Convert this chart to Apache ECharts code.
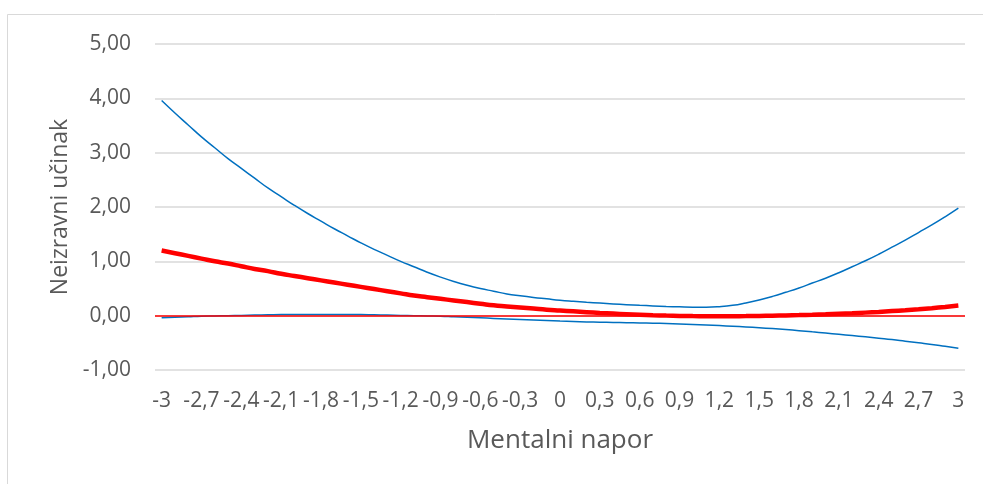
<!DOCTYPE html>
<html>
<head>
<meta charset="utf-8">
<script src="https://cdn.jsdelivr.net/npm/echarts@6/dist/echarts.min.js"></script>
<style>
html,body{margin:0;padding:0;background:#fff;}
#c{width:983px;height:484px;}
</style>
</head>
<body>
<div id="c"></div>
<script>
var categories = ["-3","-2,9","-2,8","-2,7","-2,6","-2,5","-2,4","-2,3","-2,2","-2,1","-2","-1,9","-1,8","-1,7","-1,6","-1,5","-1,4","-1,3","-1,2","-1,1","-1","-0,9","-0,8","-0,7","-0,6","-0,5","-0,4","-0,3","-0,2","-0,1","0","0,1","0,2","0,3","0,4","0,5","0,6","0,7","0,8","0,9","1","1,1","1,2","1,3","1,4","1,5","1,6","1,7","1,8","1,9","2","2,1","2,2","2,3","2,4","2,5","2,6","2,7","2,8","2,9","3"];
var upperBound = [3.96,3.73,3.51,3.29,3.09,2.89,2.71,2.53,2.35,2.19,2.03,1.88,1.74,1.60,1.47,1.34,1.22,1.11,1.00,0.90,0.80,0.71,0.63,0.56,0.50,0.45,0.40,0.365,0.335,0.31,0.285,0.265,0.247,0.231,0.216,0.203,0.191,0.180,0.170,0.162,0.156,0.155,0.165,0.19,0.235,0.29,0.355,0.43,0.51,0.60,0.69,0.79,0.90,1.01,1.13,1.26,1.39,1.53,1.67,1.82,1.98];
var lowerBound = [-0.04,-0.03,-0.02,-0.01,-0.005,0.0,0.005,0.01,0.015,0.02,0.02,0.02,0.02,0.02,0.02,0.02,0.015,0.01,0.005,0.0,-0.005,-0.01,-0.02,-0.03,-0.04,-0.05,-0.06,-0.07,-0.08,-0.09,-0.10,-0.108,-0.115,-0.12,-0.125,-0.13,-0.134,-0.138,-0.144,-0.152,-0.162,-0.172,-0.183,-0.195,-0.208,-0.222,-0.238,-0.256,-0.276,-0.298,-0.32,-0.343,-0.366,-0.39,-0.415,-0.44,-0.47,-0.50,-0.53,-0.565,-0.60];
var indirectEffect = [1.20,1.15,1.10,1.05,1.00,0.96,0.91,0.86,0.82,0.77,0.73,0.69,0.65,0.61,0.57,0.53,0.49,0.45,0.41,0.37,0.34,0.31,0.28,0.25,0.22,0.19,0.17,0.15,0.13,0.11,0.095,0.08,0.065,0.05,0.038,0.027,0.017,0.008,0.001,-0.004,-0.008,-0.01,-0.011,-0.01,-0.008,-0.005,-0.001,0.004,0.01,0.017,0.025,0.034,0.044,0.056,0.069,0.084,0.10,0.118,0.138,0.161,0.187];
var yTicks = {min:-1, max:5, interval:1};
var xTitle = "Mentalni napor";
var yTitle = "Neizravni učinak";

var chart = echarts.init(document.getElementById('c'), null, {renderer:'canvas'});
var FONT = '"Open Sans", sans-serif';
chart.setOption({
  animation:false,
  backgroundColor:'#fff',
  graphic:[{type:'rect', shape:{x:7.5,y:14.5,width:1000,height:500}, style:{fill:'none', stroke:'#d9d9d9', lineWidth:1}, silent:true}],
  grid:{left:155, right:18, top:44, bottom:114},
  xAxis:{
    type:'category', data:categories, boundaryGap:true,
    axisLine:{show:false}, axisTick:{show:false},
    axisLabel:{interval:2, color:'#595959', fontSize:21, fontFamily:FONT, margin:21},
    name:xTitle, nameLocation:'middle', nameGap:58,
    nameTextStyle:{color:'#595959', fontSize:26, fontFamily:FONT}
  },
  yAxis:{
    type:'value', min:yTicks.min, max:yTicks.max, interval:yTicks.interval,
    axisLine:{show:false}, axisTick:{show:false},
    splitLine:{lineStyle:{color:'#d9d9d9', width:1.5}},
    axisLabel:{color:'#595959', fontSize:21, fontFamily:FONT, margin:24,
      formatter:function(v){return v.toFixed(2).replace('.',',');}},
    name:yTitle, nameLocation:'middle', nameGap:80,
    nameTextStyle:{color:'#595959', fontSize:23, fontFamily:FONT}
  },
  series:[
    {type:'line', data:upperBound, smooth:true, symbol:'none', lineStyle:{color:'#0070C0', width:1.5}, z:3},
    {type:'line', data:lowerBound, smooth:true, symbol:'none', lineStyle:{color:'#0070C0', width:1.5}, z:3},
    {type:'line', data:indirectEffect, smooth:true, symbol:'none', lineStyle:{color:'#FF0000', width:4.5}, z:4,
      markLine:{silent:true, symbol:'none', label:{show:false}, lineStyle:{color:'#FF0000', width:1.5, type:'solid'},
        data:[{yAxis:0}]}}
  ]
});
</script>
</body>
</html>
